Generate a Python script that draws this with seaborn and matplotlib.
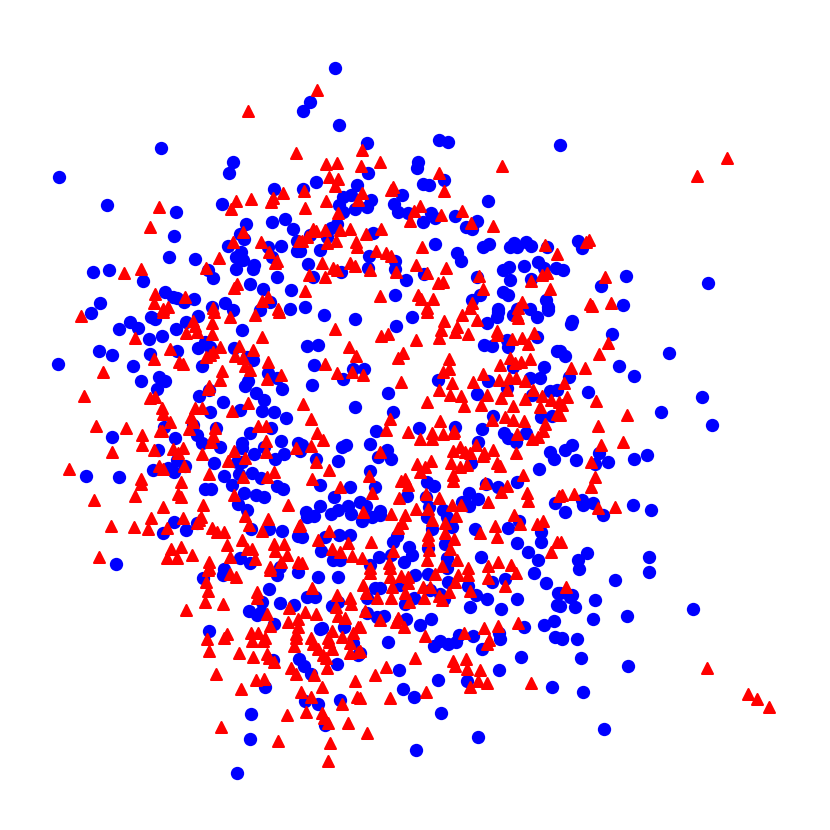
import pandas as pd
import matplotlib.pyplot as plt
import seaborn as sns

# values, (x, y) with y counted downwards
blue_pts = [
    (161,148),(59,177),(107,205),(176,212),(174,236),(169,257),(195,259),(93,272),(109,270),(143,281),
    (233,162),(229,173),(222,204),(274,189),(285,219),(272,222),(293,229),(246,224),(240,234),(244,239),
    (228,246),(281,246),(268,247),(297,241),(297,251),(241,252),(236,257),(243,260),(254,265),(253,269),
    (236,269),(272,257),(277,277),(208,270),(213,278),(250,284),(263,289),(291,290),(165,292),(173,297),
    (177,298),(184,302),(194,299),(100,303),(91,313),(212,307),(225,303),(233,310),(260,310),(270,302),(290,309),
    (335,68),(310,102),(303,111),(339,125),(367,143),(439,140),(448,142),(418,162),(417,168),(368,173),
    (560,145),(316,182),(303,189),(423,184),(429,185),(444,180),(357,185),(351,195),(343,197),(339,205),
    (343,212),(355,209),(367,207),(371,200),(402,195),(394,204),(398,212),(408,213),(431,213),(435,218),
    (423,222),(455,216),(466,227),(472,229),(477,221),(488,201),(337,224),(331,228),(327,237),(310,235),
    (373,233),(435,244),(457,253),(461,261),(483,247),(489,244),(510,247),(514,243),(517,247),(526,242),
    (531,246),(547,247),(300,251),(320,250),(308,264),(369,256),(395,261),(368,268),(395,269),(313,277),
    (341,272),(424,274),(406,280),(503,270),(509,267),(524,266),(538,262),(544,268),(556,268),(510,280),
    (477,277),(531,279),(395,295),(503,292),(508,295),(480,295),(472,300),(546,300),(548,307),(498,309),
    (517,309),(530,309),(305,307),
    (578,241),(582,248),(563,270),(626,276),(601,286),(708,283),(623,305),(572,321),(571,324),(612,334),
    (669,353),(565,356),(560,351),(619,366),(634,376),(569,377),(588,392),
    (702,397),(712,425),(661,412),(572,445),(565,450),(599,453),(576,460),(595,464),(608,462),(634,459),
    (647,455),(582,500),(583,505),(593,503),(565,512),(603,515),(633,505),(651,510),(587,553),(578,560),
    (579,569),(649,557),(649,572),(615,580),(572,595),(560,593),(595,600),(575,607),(560,606),(593,619),
    (627,616),(693,609),(562,638),(577,639),(581,658),(628,666),(583,692),(604,729),
    (119,329),(130,322),(138,328),(151,317),(155,319),(149,339),(162,336),(176,329),(186,322),(198,316),
    (242,330),(99,351),(112,355),(58,364),(133,366),(150,354),(177,351),(198,348),(205,342),(210,347),
    (234,348),(247,357),(253,360),(202,366),(141,381),(159,377),(165,381),(157,389),(268,373),(277,378),
    (282,389),(248,381),(245,386),(256,393),(264,400),(199,396),(209,390),(223,402),(210,412),(240,410),
    (262,411),(274,412),(286,418),(250,433),(271,428),(216,428),(193,425),(197,435),(202,443),(220,447),
    (164,427),(175,438),(112,437),(158,450),(242,443),(242,448),(264,447),(281,441),(284,454),(275,459),
    (254,454),(298,443),(237,462),(242,462),(214,463),(177,460),(185,466),(153,470),(168,468),(174,472),
    (86,476),(119,477),(224,476),(239,474),(252,473),(261,478),(232,485),(277,486),(283,489),(205,489),
    (211,489),(244,493),(256,495),(264,497),(238,504),(247,510),(174,522),(186,530),(163,533),(251,529),
    (269,529),(282,531),(298,536),(197,523),(116,564),(240,558),(250,563),(224,569),(280,567),
    (324,315),(355,319),(412,317),(396,326),(307,346),(318,345),(314,365),(353,369),(364,369),(343,379),
    (312,385),(388,393),(355,407),(393,412),(438,380),(487,323),(498,312),(497,317),(513,315),(537,317),
    (548,310),(484,345),(492,346),(508,347),(507,340),(537,337),(557,351),(544,367),(513,367),(488,381),
    (477,394),(507,388),(530,378),(540,378),(532,395),(550,391),(557,390),(493,416),(541,417),(552,416),
    (482,429),(504,433),(508,438),(516,442),(526,433),(478,442),(455,427),(419,428),(376,431),(370,444),
    (346,445),(342,447),(387,450),(391,459),(378,457),(338,461),(316,459),(302,445),(300,451),(370,471),
    (471,463),(550,452),(554,459),(539,469),(320,485),(350,487),(375,487),(427,482),(434,486),(334,497),
    (407,496),(426,497),(469,493),(478,499),(462,502),(469,506),(486,484),(498,487),(517,482),(555,503),
    (320,506),(348,506),(360,502),(366,506),(338,510),(331,514),(351,514),(306,512),(314,516),(307,517),
    (380,511),(380,515),(372,517),(362,521),(429,507),(427,517),(443,510),(447,517),(452,527),(432,529),
    (475,529),(508,528),(519,521),(541,532),(541,542),(517,543),(528,552),(538,560),(481,557),(325,537),
    (339,535),(350,535),(302,537),(397,536),(393,542),(409,547),(412,555),(321,551),(333,560),(340,560),
    (379,557),(404,562),(391,555),(428,548),(445,544),(447,558),(370,565),(447,568),
    (203,578),(223,575),(277,575),(298,572),(318,577),(338,577),(269,589),(307,597),(315,597),(338,602),
    (332,606),(262,602),(280,603),(294,605),(249,611),(257,615),(261,612),(274,624),(209,631),(320,629),
    (322,628),(344,627),(353,643),(358,655),(273,660),(299,659),(304,666),(311,674),(337,664),(265,687),
    (305,701),(318,704),(340,700),(325,725),(251,714),(250,739),(237,773),
    (415,575),(428,574),(448,582),(492,582),(505,579),(534,573),(546,583),(375,588),(380,588),(400,585),
    (476,595),(468,586),(558,593),(570,597),(487,599),(517,599),(367,598),(440,594),(444,599),(414,598),
    (430,590),(405,604),(470,607),(501,609),(557,605),(367,613),(384,616),(377,617),(406,619),(420,625),
    (431,619),(524,627),(544,625),(554,621),(555,637),(562,639),(440,641),(434,646),(448,644),(456,642),
    (459,635),(473,636),(499,633),(500,639),(482,649),(388,642),(521,657),(399,670),(438,680),(499,670),
    (467,681),(403,689),(414,697),(552,687),(441,713),(478,737),(416,750),(360,653),
]

red_pts = [
    (248,111),(296,153),(283,193),(236,201),(251,199),(273,198),(271,202),(231,209),(159,207),(150,227),
    (243,232),(233,242),(261,242),(299,241),(269,252),(219,258),(277,261),(275,263),(206,268),(141,269),
    (124,273),(237,284),(234,288),(155,294),(154,303),(185,297),(268,297),(262,301),(168,307),(163,309),
    (213,308),(278,309),
    (317,90),(362,150),(326,164),(337,163),(361,166),(380,162),(502,166),(439,173),(329,177),(338,179),
    (335,186),(304,191),(393,187),(391,190),(444,191),(362,193),(358,200),(326,201),(305,208),(338,213),
    (420,206),(414,211),(410,221),(441,215),(462,211),(471,223),(493,226),(381,229),(350,229),(340,230),
    (325,230),(313,229),(316,231),(307,237),(302,241),(366,234),(336,241),(327,243),(356,242),(357,247),
    (422,247),(376,251),(386,253),(391,256),(545,245),(557,254),(322,263),(416,265),(350,263),(355,266),
    (333,268),(337,270),(370,270),(396,272),(446,268),(309,275),(325,277),(427,273),(479,276),(438,283),
    (443,282),(531,281),(542,275),(547,273),(305,291),(483,289),(550,289),(380,296),(418,295),(421,299),
    (433,299),(472,303),(522,302),(427,308),(470,308),(518,308),
    (727,158),(697,176),(589,240),(586,242),(605,277),(590,304),(592,306),(611,303),(608,343),(599,354),
    (571,368),(585,368),(564,383),
    (567,397),(596,401),(562,405),(627,415),(598,426),(560,415),(601,445),(623,442),(591,462),(595,477),
    (591,487),(562,495),(574,494),(598,508),(615,507),(561,542),(566,587),(707,668),(748,694),(757,699),(769,707),
    (81,316),(163,312),(214,312),(230,317),(255,315),(279,312),(193,321),(195,326),(197,332),(212,323),
    (212,334),(186,333),(135,338),(262,337),(170,349),(220,347),(239,346),(253,350),(213,352),(210,355),
    (206,357),(235,356),(243,358),(154,359),(179,362),(183,364),(245,366),(268,362),(250,370),(103,372),
    (222,371),(220,380),(267,379),(281,375),(209,386),(208,389),(84,396),(150,398),(155,397),(248,403),
    (232,411),(162,408),(163,414),(195,408),(202,408),(191,417),(170,422),(193,422),(189,429),(96,426),
    (126,428),(160,431),(162,431),(142,435),(142,445),(215,428),(213,436),(211,442),(258,426),(266,426),
    (266,441),(112,452),(154,450),(173,449),(183,448),(178,453),(202,454),(234,451),(228,461),(245,458),
    (266,452),(296,448),(184,466),(159,466),(163,469),(69,469),(209,474),(243,477),(274,472),(267,477),
    (141,479),(141,484),(181,482),(178,494),(181,497),(135,496),(234,495),(94,500),(203,505),(288,505),
    (163,507),(245,516),(201,517),(183,518),(151,518),(199,520),(197,523),(268,519),(249,525),(111,526),
    (134,527),(148,529),(167,528),(212,528),(217,532),(224,532),(262,531),(299,526),(242,540),(171,549),
    (181,547),(227,545),(247,549),(252,549),(274,544),(284,544),(275,551),(287,555),(192,555),(167,558),
    (177,558),(99,557),(230,557),(255,559),(281,562),(209,562),(209,568),(270,567),(298,562),
    (335,329),(427,312),(444,321),(462,315),(477,320),(457,327),(455,332),(441,330),(468,334),(439,338),
    (416,340),(388,334),(381,336),(497,331),(497,335),(517,315),(518,318),(534,333),(522,338),(512,339),
    (528,344),(349,347),(356,356),(403,353),(398,358),(449,359),(510,358),(500,365),(530,359),(521,362),
    (515,363),(325,364),(352,372),(363,375),(337,373),(449,369),(443,372),(483,374),(401,382),(452,383),
    (473,382),(499,380),(509,378),(516,378),(525,381),(439,390),(450,395),(461,396),(487,395),(507,390),
    (533,390),(501,398),(525,399),(542,396),(551,400),(559,402),(481,405),(464,406),(513,406),(540,407),
    (427,402),(303,404),(505,417),(513,420),(524,421),(492,420),(440,421),(390,419),(311,419),(557,414),
    (545,424),(543,431),(517,434),(538,437),(532,439),(386,430),(408,432),(432,433),(432,439),(420,439),
    (443,434),(454,431),(453,433),(317,433),(323,440),(311,446),(380,452),(476,445),(460,447),(453,451),
    (465,452),(470,453),(493,450),(484,453),(483,456),(516,453),(431,461),(316,462),(417,464),(425,467),
    (451,463),(460,467),(467,465),(497,463),(500,466),(420,472),(329,470),(369,476),(453,475),(453,481),
    (523,475),(312,479),(401,481),(405,479),(408,485),(485,483),(507,486),(501,492),(340,487),(372,493),
    (527,493),(528,501),(426,494),(399,498),(439,498),(488,502),(559,496),(452,505),(461,505),(416,509),
    (428,509),(363,512),(391,514),(405,515),(456,516),(432,520),(514,515),(520,524),(543,521),(537,524),
    (300,525),(402,523),(398,528),(445,523),(445,533),(495,526),(497,537),(329,531),(480,533),(428,535),
    (428,540),(454,539),(318,540),(348,543),(371,542),(450,549),(332,549),(340,552),(393,551),(429,550),
    (352,556),(362,558),(427,560),(457,560),(389,563),(302,563),(551,552),(557,542),(498,562),(488,566),
    (511,565),(442,566),(468,568),(370,568),(390,568),
    (208,570),(230,574),(236,577),(270,570),(206,582),(208,591),(257,592),(257,598),(312,588),(337,595),
    (350,598),(351,604),(205,602),(223,604),(186,610),(289,608),(305,612),(316,614),(336,607),(338,616),
    (345,618),(267,614),(298,619),(288,622),(270,626),(298,627),(296,634),(296,638),(332,631),(328,638),
    (342,637),(358,627),(353,633),(227,634),(224,638),(207,639),(209,651),(251,633),(258,633),(252,641),
    (265,638),(263,641),(311,638),(313,644),(329,642),(294,646),(318,649),(332,649),(350,643),(323,655),
    (326,658),(239,653),(253,657),(267,654),(350,653),(358,652),(269,658),(274,662),(327,668),(291,668),
    (296,674),(216,674),(314,675),(264,679),(256,680),(355,681),(322,687),(241,689),(301,692),(311,697),
    (357,697),(342,704),(306,712),(287,715),(322,713),(324,718),(328,723),(348,723),(221,727),(278,741),
    (330,743),(328,761),
    (370,573),(390,577),(401,576),(408,577),(408,583),(435,574),(458,575),(468,575),(455,582),(488,578),
    (505,586),(516,573),(363,585),(366,593),(377,598),(392,587),(391,598),(405,593),(423,587),(430,587),
    (424,598),(449,592),(470,591),(439,596),(442,600),(409,602),(365,611),(380,620),(398,618),(396,622),
    (404,627),(360,627),(425,636),(464,633),(484,628),(498,626),(518,623),(489,640),(487,644),(360,651),
    (415,658),(453,661),(466,659),(455,666),(467,669),(386,667),(480,670),(375,675),(478,681),(487,683),
    (531,683),(470,687),(426,692),(390,698),(360,698),(367,733),
]

blue = pd.DataFrame(blue_pts, columns=['x', 'y'])
red = pd.DataFrame(red_pts, columns=['x', 'y'])

fig = plt.figure(figsize=(8.3, 8.3), dpi=100)
ax = fig.add_axes([0, 0, 1, 1])

sns.scatterplot(data=blue, x='x', y='y', color='#0000ff', marker='o', s=92, linewidth=0, ax=ax)
sns.scatterplot(data=red, x='x', y='y', color='#ff0000', marker='^', s=62, linewidth=1.5,
                edgecolor='#ff0000', joinstyle='round', ax=ax)

ax.set_xlim(0, 830)
ax.set_ylim(830, 0)
ax.axis('off')

plt.savefig('out.png', dpi=100)
plt.close()
